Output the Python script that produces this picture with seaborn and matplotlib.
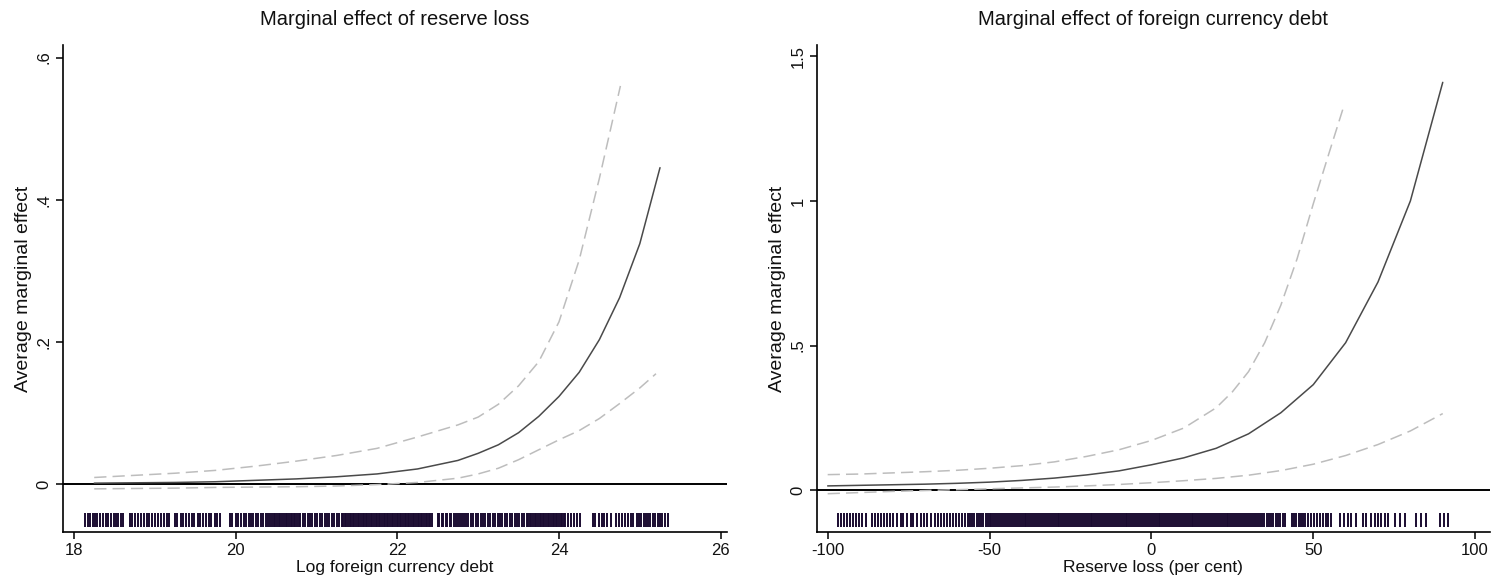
import matplotlib
matplotlib.use("Agg")
import matplotlib.pyplot as plt
import seaborn as sns

# ---------------- data ----------------
# Left panel: marginal effect of reserve loss vs log foreign currency debt
left_x_mid = [18.25, 18.75, 19.25, 19.75, 20.25, 20.75, 21.25, 21.75, 22.25, 22.75,
              23.0, 23.25, 23.5, 23.75, 24.0, 24.25, 24.5, 24.75, 25.0, 25.25]
left_mid = [0.001, 0.0015, 0.002, 0.003, 0.005, 0.007, 0.010, 0.014, 0.021, 0.033,
            0.043, 0.055, 0.072, 0.095, 0.123, 0.157, 0.203, 0.262, 0.338, 0.445]
left_x_hi = [18.25, 18.75, 19.25, 19.75, 20.25, 20.75, 21.25, 21.75, 22.25, 22.75,
             23.0, 23.25, 23.5, 23.75, 24.0, 24.25, 24.5, 24.76]
left_hi = [0.009, 0.012, 0.015, 0.019, 0.025, 0.032, 0.040, 0.050, 0.066, 0.083,
           0.094, 0.112, 0.138, 0.172, 0.228, 0.315, 0.43, 0.560]
left_x_lo = [18.25, 18.75, 19.25, 19.75, 20.25, 20.75, 21.25, 21.75, 22.25, 22.75,
             23.0, 23.25, 23.5, 23.75, 24.0, 24.25, 24.5, 24.75, 25.0, 25.2]
left_lo = [-0.007, -0.0065, -0.006, -0.005, -0.0045, -0.004, -0.003, -0.001, 0.002, 0.008,
           0.014, 0.022, 0.034, 0.048, 0.062, 0.075, 0.092, 0.113, 0.135, 0.155]
left_rug = [
    18.14, 18.17, 18.20, 18.23, 18.26, 18.29, 18.32, 18.36, 18.39, 18.42, 18.46, 18.49, 18.52, 18.55, 18.58, 18.61,
    18.69, 18.72, 18.76, 18.79, 18.83, 18.86, 18.90, 18.93, 18.97, 19.00, 19.04, 19.07, 19.11, 19.15, 19.18,
    19.25, 19.28, 19.32, 19.35, 19.39, 19.42, 19.46, 19.49, 19.53, 19.56, 19.60, 19.63, 19.67, 19.70, 19.74, 19.77, 19.81,
    19.93, 19.96, 20.00, 20.03, 20.06, 20.10, 20.13, 20.16, 20.19, 20.22, 20.25, 20.28, 20.31, 20.34, 20.37, 20.40, 20.43, 20.45,
    20.47, 20.49, 20.51, 20.53, 20.55, 20.57, 20.60, 20.62, 20.64, 20.66, 20.68, 20.70, 20.72, 20.74, 20.76, 20.78, 20.80,
    20.83, 20.86, 20.89, 20.92, 20.95, 20.98, 21.01, 21.04, 21.07, 21.10, 21.13, 21.16, 21.19, 21.22, 21.25, 21.28, 21.31,
    21.33, 21.35, 21.37, 21.39, 21.41, 21.43, 21.45, 21.47, 21.49, 21.51, 21.53, 21.55, 21.57, 21.59, 21.61, 21.63, 21.65,
    21.67, 21.69, 21.71, 21.73, 21.75, 21.77, 21.79, 21.81, 21.83, 21.85, 21.87, 21.89, 21.91, 21.93, 21.95, 21.97, 21.99,
    22.01, 22.03, 22.05, 22.07, 22.09, 22.11, 22.13, 22.15, 22.17, 22.19, 22.21, 22.23, 22.25, 22.27, 22.29, 22.31, 22.33,
    22.35, 22.37, 22.39, 22.41, 22.43,
    22.50, 22.52, 22.55, 22.57, 22.60, 22.62, 22.65, 22.67, 22.70, 22.72, 22.75, 22.77, 22.80, 22.82, 22.85, 22.88, 22.91,
    22.94, 22.97, 23.00, 23.03, 23.06, 23.09, 23.12, 23.15, 23.18, 23.21, 23.24, 23.27, 23.30, 23.33, 23.36, 23.39, 23.42,
    23.45, 23.48, 23.51, 23.54, 23.57, 23.60, 23.62, 23.64, 23.66, 23.68, 23.70, 23.72, 23.74, 23.76, 23.78, 23.80, 23.82,
    23.84, 23.86, 23.88, 23.90, 23.92, 23.94, 23.96, 23.98, 24.00, 24.02, 24.04, 24.06, 24.08, 24.11, 24.15, 24.18, 24.22, 24.26,
    24.42, 24.45, 24.49, 24.53, 24.56, 24.60, 24.64, 24.71, 24.74, 24.78, 24.82, 24.85, 24.89, 24.92, 24.96, 24.99,
    25.02, 25.05, 25.08, 25.10, 25.13, 25.16, 25.19, 25.22, 25.25, 25.28, 25.31, 25.35,
]

# Right panel: marginal effect of foreign currency debt vs reserve loss
right_x_mid = [-100, -90, -80, -70, -60, -50, -40, -30, -20, -10, 0, 10, 20, 30, 40, 50, 60, 70, 80, 90]
right_mid = [0.015, 0.017, 0.019, 0.021, 0.024, 0.028, 0.034, 0.042, 0.053, 0.067,
             0.088, 0.112, 0.145, 0.195, 0.268, 0.365, 0.51, 0.72, 1.0, 1.41]
right_x_hi = [-100, -90, -80, -70, -60, -50, -40, -30, -20, -10, 0, 10, 20, 25, 30, 35, 40, 45, 50, 55, 59.5]
right_hi = [0.054, 0.056, 0.060, 0.064, 0.069, 0.076, 0.085, 0.098, 0.117, 0.14, 0.172,
            0.215, 0.285, 0.34, 0.41, 0.51, 0.64, 0.80, 0.99, 1.17, 1.33]
right_x_lo = [-100, -90, -80, -70, -60, -50, -40, -30, -20, -10, 0, 10, 20, 30, 40, 50, 60, 70, 80, 90]
right_lo = [-0.012, -0.008, -0.004, -0.001, 0.002, 0.005, 0.008, 0.011, 0.015, 0.02,
            0.026, 0.033, 0.041, 0.052, 0.068, 0.09, 0.12, 0.158, 0.205, 0.265]
right_rug = [
    -96.9, -96.0, -95.0, -94.1, -93.1, -92.2, -91.2, -90.3, -89.3, -88.3,
    -86.4, -85.4, -84.5, -83.5, -82.6, -81.6, -80.7, -79.7, -78.7,
    -77.5, -76.6, -75.6, -74.4, -73.5, -72.5, -71.2, -70.3, -69.3, -68.2,
    -67.0, -66.0, -65.1, -64.1, -63.2, -62.2, -61.3, -60.3, -59.4, -58.4, -57.5,
    -56.8, -56.1, -55.4, -54.7, -54.0, -53.3, -52.6, -51.9, -51.2, -50.5,
    -50.0, -49.4, -48.8, -48.2, -47.6, -47.0, -46.4, -45.8, -45.2, -44.6, -44.0, -43.4, -42.8, -42.2,
    -41.6, -41.0, -40.4, -39.8, -39.2, -38.6, -38.0, -37.4, -36.8, -36.2, -35.6, -35.0, -34.4, -33.8,
    -33.2, -32.6, -32.0, -31.4, -30.8, -30.2, -29.6, -29.0, -28.4, -27.8, -27.2, -26.6, -26.0, -25.4,
    -24.8, -24.2, -23.6, -23.0, -22.4, -21.8, -21.2, -20.6, -20.0, -19.4, -18.8, -18.2, -17.6, -17.0,
    -16.4, -15.8, -15.2, -14.6, -14.0, -13.4, -12.8, -12.2, -11.6, -11.0, -10.4, -9.8, -9.2, -8.6,
    -8.0, -7.4, -6.8, -6.2, -5.6, -5.0, -4.4, -3.8, -3.2, -2.6, -2.0, -1.4, -0.8, -0.2,
    0.4, 1.0, 1.6, 2.2, 2.8, 3.4, 4.0, 4.6, 5.2, 5.8, 6.4, 7.0, 7.6, 8.2, 8.8, 9.4, 10.0,
    10.6, 11.2, 11.8, 12.4, 13.0, 13.6, 14.2, 14.8, 15.4, 16.0, 16.6, 17.2, 17.8, 18.4, 19.0, 19.6,
    20.2, 20.8, 21.4, 22.0, 22.6, 23.2, 23.8, 24.4, 25.0, 25.6, 26.2, 26.8, 27.4, 28.0, 28.6, 29.2,
    29.8, 30.4, 31.0, 31.6, 32.2, 32.8,
    33.5, 34.2, 34.9, 35.6, 36.3, 37.0, 37.7, 38.4, 39.1, 39.8, 40.5, 41.2,
    43.4, 44.1, 44.8, 45.5, 46.2, 46.9, 47.6,
    48.4, 49.3, 50.2, 51.1, 52.0, 52.9, 53.8, 54.7, 55.6,
    58.3, 59.6, 60.8, 61.7, 63.3, 65.4, 66.4, 67.9, 69.1, 70.1, 71.0, 72.2, 73.1, 75.3, 76.9, 78.4,
    81.8, 83.3, 84.9, 89.2, 90.4, 91.7,
]

titles = ["Marginal effect of reserve loss", "Marginal effect of foreign currency debt"]
xlabels = ["Log foreign currency debt", "Reserve loss (per cent)"]
ylabel = "Average marginal effect"
left_xticks = [18, 20, 22, 24, 26]
left_yticks = [0, 0.2, 0.4, 0.6]
left_yticklabels = ["0", ".2", ".4", ".6"]
right_xticks = [-100, -50, 0, 50, 100]
right_yticks = [0, 0.5, 1, 1.5]
right_yticklabels = ["0", ".5", "1", "1.5"]

# ---------------- style ----------------
sns.set_theme(style="ticks")
plt.rcParams["font.family"] = ["Liberation Sans", "DejaVu Sans"]
narrow = ["Liberation Sans Narrow", "Liberation Sans", "DejaVu Sans"]

fig = plt.figure(figsize=(14.93, 5.81), dpi=100)
ax1 = fig.add_axes([0.042, 0.084, 0.445, 0.839])
ax2 = fig.add_axes([0.547, 0.084, 0.451, 0.839])

mid_col = "#4a4a4a"
ci_col = "#bdbdbd"
rug_col = "#1a0b30"
txt_col = "#111111"

panels = [
    (ax1, left_x_mid, left_mid, left_x_hi, left_hi, left_x_lo, left_lo, left_rug,
     (17.86, 26.08), (-0.068, 0.618), left_xticks, [str(t) for t in left_xticks],
     left_yticks, left_yticklabels),
    (ax2, right_x_mid, right_mid, right_x_hi, right_hi, right_x_lo, right_lo, right_rug,
     (-103.4, 104.6), (-0.145, 1.54), right_xticks, [str(t) for t in right_xticks],
     right_yticks, right_yticklabels),
]

for i, (ax, xm, ym, xh, yh, xl, yl, rug, xlim, ylim, xt, xtl, yt, ytl) in enumerate(panels):
    ax.axhline(0, color="black", lw=1.4, zorder=1)
    sns.lineplot(x=xh, y=yh, ax=ax, color=ci_col, lw=1.1, sort=False, zorder=2,
                 linestyle=(0, (8, 4)))
    sns.lineplot(x=xl, y=yl, ax=ax, color=ci_col, lw=1.1, sort=False, zorder=2,
                 linestyle=(0, (8, 4)))
    sns.lineplot(x=xm, y=ym, ax=ax, color=mid_col, lw=1.1, sort=False, zorder=3)
    ax.vlines(rug, 0.0103, 0.039, transform=ax.get_xaxis_transform(),
              colors=rug_col, lw=1.4, zorder=2)
    ax.set_xlim(*xlim)
    ax.set_ylim(*ylim)
    ax.set_xticks(xt)
    ax.set_xticklabels(xtl, fontsize=12, color=txt_col)
    ax.set_yticks(yt)
    ax.set_yticklabels(ytl, fontsize=12, rotation=90, va="center", color=txt_col)
    ax.tick_params(axis="both", direction="out", length=5, width=1.1, color="black", pad=3)
    ax.set_title(titles[i], fontsize=14.5, family=narrow, pad=14, color=txt_col)
    ax.set_xlabel(xlabels[i], fontsize=12.5, family=narrow, labelpad=1, color=txt_col)
    ax.set_ylabel(ylabel, fontsize=14, labelpad=3, color=txt_col)
    sns.despine(ax=ax)
    for s in ["left", "bottom"]:
        ax.spines[s].set_linewidth(1.2)
        ax.spines[s].set_color("black")
    ax.set_facecolor("white")

fig.savefig("out.png", dpi=100, facecolor="white")
